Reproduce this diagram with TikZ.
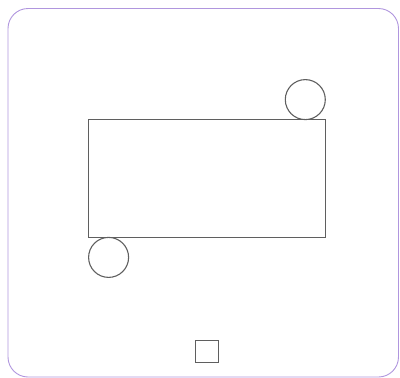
\documentclass[tikz,border=0pt]{standalone}
\usepackage{tikz}
\usetikzlibrary{positioning}
\definecolor{framepurple}{RGB}{176,150,222}
\definecolor{shapegray}{RGB}{95,95,95}

\begin{document}
\begin{tikzpicture}[
      x=1pt, y=-1pt,
      outline/.style={draw=shapegray, line width=1.1pt, inner sep=0pt},
      block/.style={outline, rectangle, minimum width=236.6pt, minimum height=118pt},
      wheel/.style={outline, circle, minimum size=40pt},
      tag/.style={outline, rectangle, minimum width=23pt, minimum height=22pt}
    ]
      \useasboundingbox (0,0) rectangle (400,378);
      % Frame
      \draw[framepurple, line width=0.9pt, rounded corners=20pt] (8,8.5) rectangle (398.5,377);

      % Body and the two circles
      \node[block] (body) at (207,178.3) {};
      \node[wheel] (topwheel) at (305.3,99.6) {};
      \node[wheel] (bottomwheel) at (108.6,257.4) {};

      % Small square
      \node[tag] (square) at (207.3,351.3) {};
    \end{tikzpicture}
\end{document}
